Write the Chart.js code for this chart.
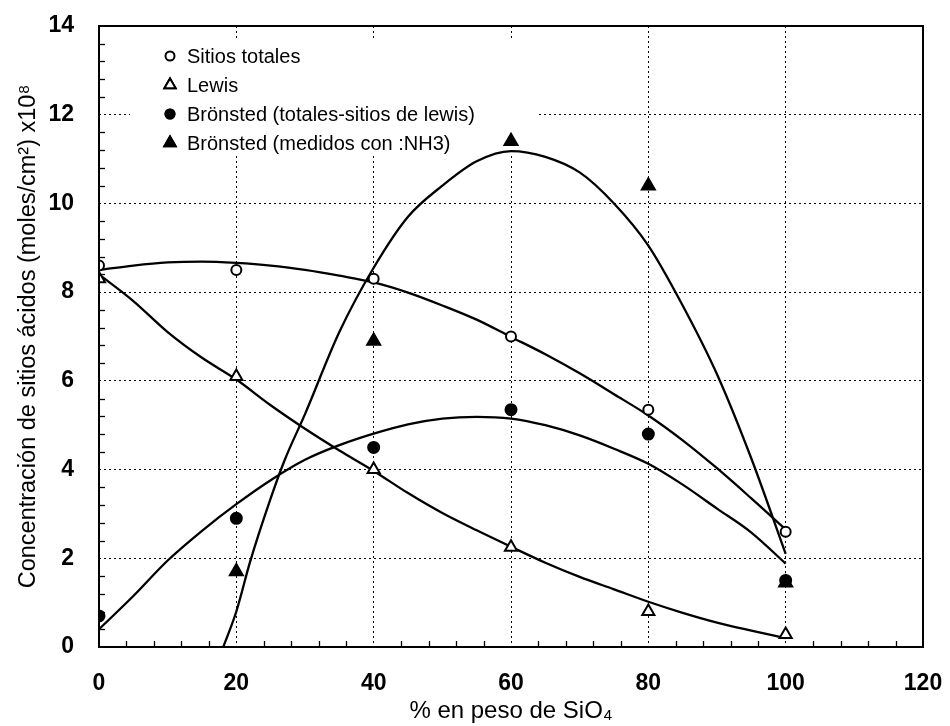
<!DOCTYPE html>
<html lang="es">
<head>
  <meta charset="utf-8" />
  <title>Concentración de sitios ácidos vs % SiO4</title>
  <script src="https://cdn.jsdelivr.net/npm/chart.js@4.4.1/dist/chart.umd.min.js"></script>
  <style>
    html, body { margin: 0; padding: 0; background: #fff; }
  </style>
</head>
<body>
<canvas id="myChart" width="950" height="726"></canvas>

<script>
// measured points (% SiO4 on x)
const pctSiO = [0, 20, 40, 60, 80, 100];
const sitiosTotales = [8.6, 8.5, 8.3, 7.0, 5.35, 2.6];
const lewis = [8.3, 6.1, 4.0, 2.25, 0.8, 0.28];
const bronstedDif = [0.7, 2.9, 4.5, 5.35, 4.8, 1.5];
const pctNH3 = [20, 40, 60, 80, 100];
const bronstedNH3 = [1.7, 6.9, 11.4, 10.4, 1.45];

// fitted curves
const curveX = [0, 5, 10, 15, 20, 25, 30, 35, 40, 45, 50, 55, 60, 65, 70, 75, 80, 85, 90, 95, 100];
const sitiosCurve = [8.5, 8.6, 8.67, 8.69, 8.66, 8.6, 8.5, 8.37, 8.22, 7.99, 7.7, 7.38, 6.99, 6.6, 6.17, 5.7, 5.22, 4.66, 4.03, 3.35, 2.65];
const lewisCurve = [8.4, 7.8, 7.1, 6.52, 6.03, 5.45, 4.92, 4.43, 3.97, 3.47, 3.02, 2.63, 2.26, 1.9, 1.58, 1.3, 1.02, 0.77, 0.55, 0.37, 0.2];
const bronstedCurve = [0.4, 1.15, 1.95, 2.62, 3.22, 3.76, 4.22, 4.55, 4.81, 5.02, 5.15, 5.19, 5.15, 5.0, 4.77, 4.47, 4.13, 3.66, 3.12, 2.58, 1.88];
const nh3CurveX = [18.1, 20, 22, 25, 27, 30, 35, 40, 45, 50, 55, 60, 65, 70, 75, 80, 85, 90, 95, 100];
const nh3Curve = [0, 0.8, 1.92, 3.35, 4.2, 5.25, 7.1, 8.55, 9.7, 10.4, 10.95, 11.18, 11.05, 10.7, 10.0, 9.05, 7.7, 6.15, 4.25, 2.1];

const xTicks = [0, 20, 40, 60, 80, 100, 120];
const yTicks = [0, 2, 4, 6, 8, 10, 12, 14];

const FONT = "'Liberation Sans', Arial, Helvetica, sans-serif";

function pairs(xs, ys) {
  return xs.map((x, i) => ({ x: x, y: ys[i] }));
}

function curve(xs, ys) {
  return {
    type: 'line',
    data: pairs(xs, ys),
    borderColor: '#000',
    borderWidth: 2.3,
    pointRadius: 0,
    cubicInterpolationMode: 'monotone',
    fill: false,
    order: 2,
    inLegend: false
  };
}

function marks(label, xs, ys, style, filled, radius) {
  return {
    type: 'scatter',
    label: label,
    data: pairs(xs, ys),
    pointStyle: style,
    pointRadius: radius,
    pointBorderWidth: 2,
    pointBorderColor: '#000',
    pointBackgroundColor: filled ? '#000' : '#fff',
    order: 0,
    inLegend: true
  };
}

// white box legend in the upper left of the plot
const boxLegend = {
  id: 'boxLegend',
  beforeDatasetsDraw(chart) {
    const { ctx, chartArea } = chart;
    const left = chartArea.left + 31;
    const top = chartArea.top + 14;
    ctx.save();
    ctx.fillStyle = '#fff';
    ctx.fillRect(left, top, 407, 116);
    ctx.font = '20px ' + FONT;
    ctx.textBaseline = 'middle';
    ctx.fillStyle = '#000';
    let row = 0;
    chart.data.datasets.forEach(ds => {
      if (!ds.inLegend) return;
      const cy = top + 16 + row * 29;
      const cx = left + 40;
      Chart.helpers.drawPoint(ctx, {
        pointStyle: ds.pointStyle,
        radius: ds.pointStyle === 'triangle' ? 6.5 : 4.5,
        borderWidth: 2
      }, cx, cy);
      ctx.strokeStyle = '#000';
      ctx.fillStyle = ds.pointBackgroundColor;
      ctx.lineWidth = 2;
      ctx.fill();
      ctx.stroke();
      ctx.fillStyle = '#000';
      ctx.fillText(ds.label, left + 57, cy + 1);
      row++;
    });
    ctx.restore();
  }
};

// frame and small inward minor ticks
const frameTicks = {
  id: 'frameTicks',
  afterDatasetsDraw(chart) {
    const { ctx, chartArea: a, scales: { x, y } } = chart;
    ctx.save();
    ctx.strokeStyle = '#000';
    ctx.lineWidth = 1.3;
    for (let v = 4; v < 120; v += 4) {
      if (v % 20 === 0) continue;
      const px = Math.round(x.getPixelForValue(v)) + 0.5;
      ctx.beginPath();
      ctx.moveTo(px, a.bottom);
      ctx.lineTo(px, a.bottom - 6);
      ctx.stroke();
    }
    for (let i = 1; i < 35; i++) {
      if (i % 5 === 0) continue;
      const py = Math.round(y.getPixelForValue(i * 0.4)) + 0.5;
      ctx.beginPath();
      ctx.moveTo(a.left, py);
      ctx.lineTo(a.left + 6, py);
      ctx.stroke();
    }
    ctx.lineWidth = 2;
    ctx.strokeRect(a.left, a.top, a.right - a.left, a.bottom - a.top);
    ctx.restore();
  }
};

window.addEventListener('load', () => {
  const ctx = document.getElementById('myChart').getContext('2d');
  new Chart(ctx, {
    data: {
      datasets: [
        marks('Sitios totales', pctSiO, sitiosTotales, 'circle', false, 5),
        marks('Lewis', pctSiO, lewis, 'triangle', false, 7),
        marks('Brönsted (totales-sitios de lewis)', pctSiO, bronstedDif, 'circle', true, 5.5),
        marks('Brönsted (medidos con :NH3)', pctNH3, bronstedNH3, 'triangle', true, 7.5),
        curve(curveX, sitiosCurve),
        curve(curveX, lewisCurve),
        curve(curveX, bronstedCurve),
        curve(nh3CurveX, nh3Curve)
      ]
    },
    options: {
      responsive: false,
      animation: false,
      layout: { padding: { top: 26, right: 27, left: 0, bottom: 0 } },
      plugins: {
        legend: { display: false },
        tooltip: { enabled: false }
      },
      scales: {
        x: {
          type: 'linear',
          min: 0,
          max: 120,
          afterBuildTicks: s => { s.ticks = xTicks.map(v => ({ value: v })); },
          afterFit: s => { s.height = 79; s.paddingLeft = 0; s.paddingRight = 0; },
          grid: { color: '#000', lineWidth: 1, drawTicks: false },
          border: { display: false, dash: [2, 3] },
          ticks: { color: '#000', padding: 23, font: { family: FONT, size: 23, weight: 'bold' } },
          title: {
            display: true,
            text: '% en peso de SiO₄',
            color: '#000',
            font: { family: FONT, size: 24 },
            padding: { top: 0, bottom: 0 }
          }
        },
        y: {
          type: 'linear',
          min: 0,
          max: 14,
          afterBuildTicks: s => { s.ticks = yTicks.map(v => ({ value: v })); },
          afterFit: s => { s.width = 99; s.paddingTop = 0; s.paddingBottom = 0; },
          grid: { color: '#000', lineWidth: 1, drawTicks: false },
          border: { display: false, dash: [2, 3] },
          ticks: { color: '#000', padding: 25, font: { family: FONT, size: 23, weight: 'bold' } },
          title: {
            display: true,
            text: 'Concentración de sitios ácidos (moles/cm²) x10⁸',
            color: '#000',
            font: { family: FONT, size: 23.5 },
            padding: { top: 14, bottom: 0 }
          }
        }
      }
    },
    plugins: [boxLegend, frameTicks]
  });
});
</script>
</body>
</html>
